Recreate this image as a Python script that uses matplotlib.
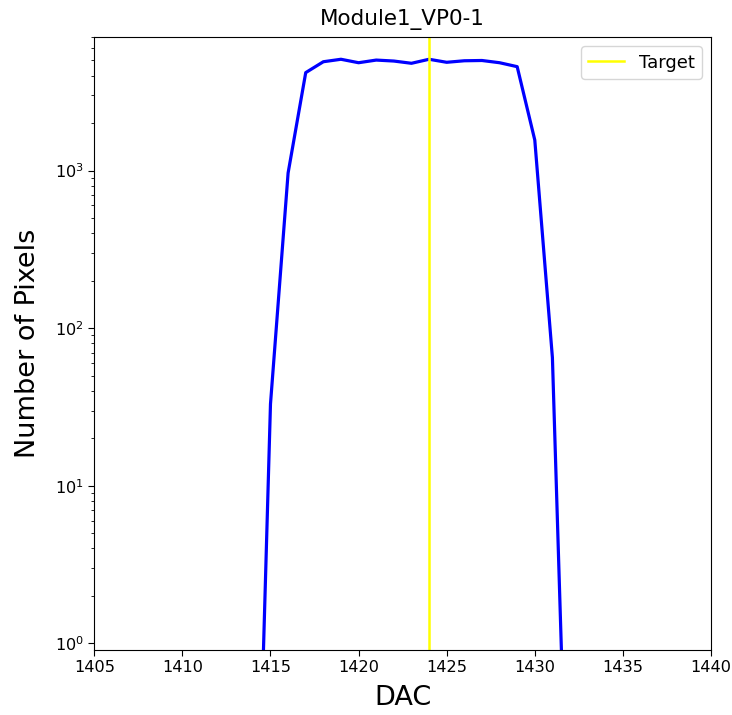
import matplotlib
matplotlib.use('Agg')
import matplotlib.pyplot as plt

# DAC scan for one module
dac = [1414, 1415, 1416, 1417, 1418, 1419, 1420, 1421, 1422, 1423,
       1424, 1425, 1426, 1427, 1428, 1429, 1430, 1431, 1432]
n_pixels = [0.004, 33, 965, 4180, 4900, 5080, 4830, 5020, 4950, 4790,
            5080, 4860, 4970, 4990, 4830, 4560, 1560, 65, 0.015]
target = 1424

plt.rcParams['xtick.major.size'] = 4
plt.rcParams['ytick.major.size'] = 4
plt.rcParams['ytick.minor.size'] = 2.3

fig = plt.figure(figsize=(7.32, 7.15), dpi=100)
ax = fig.add_axes([0.1288, 0.0909, 0.8425, 0.8569])

ax.plot(dac, n_pixels, color='blue', linewidth=2.3)
ax.axvline(target, color='yellow', linewidth=1.8, label='Target')

ax.set_yscale('log')
ax.set_xlim(1405, 1440)
ax.set_ylim(0.907, 7000)

ax.set_title('Module1_VP0-1', fontsize=15.5, pad=9)
ax.set_xlabel('DAC', fontsize=19.5, labelpad=7)
ax.set_ylabel('Number of Pixels', fontsize=19.5, labelpad=10)
ax.tick_params(labelsize=11.6)
ax.legend(loc='upper right', fontsize=13)

fig.savefig('out.png', dpi=100)
